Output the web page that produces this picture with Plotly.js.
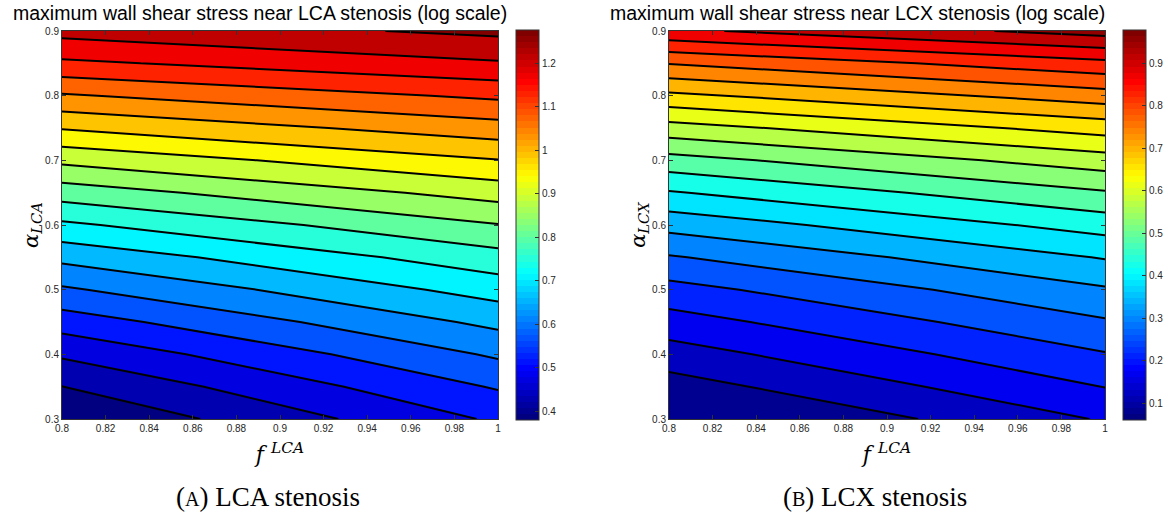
<!DOCTYPE html>
<html>
<head>
<meta charset="utf-8">
<script src="https://cdn.plot.ly/plotly-3.0.1.min.js"></script>
<style>
  html, body { margin: 0; padding: 0; background: #ffffff; }
  #chart { width: 1172px; height: 522px; }
</style>
</head>
<body>
<div id="chart"></div>
<script>
// ---------------- data ----------------
// Grid: fraction f (x) and alpha (y)
const fValues = [0.8, 1.0];
const alphaValues = [0.3, 0.35, 0.4, 0.45, 0.5, 0.55, 0.6, 0.65, 0.7, 0.75, 0.8, 0.85, 0.9];

// LCA stenosis: log max WSS along f = 0.8 and f = 1.0
const lcaAtF080 = [0.380, 0.426, 0.480, 0.542, 0.606, 0.672, 0.744, 0.821, 0.903, 0.989, 1.074, 1.163, 1.235];
const lcaAtF100 = [0.527, 0.571, 0.620, 0.672, 0.726, 0.782, 0.844, 0.912, 0.984, 1.060, 1.135, 1.214, 1.276];

// LCX stenosis: log max WSS along f = 0.8 and f = 1.0
const lcxAtF080 = [0.060, 0.104, 0.148, 0.193, 0.240, 0.296, 0.359, 0.428, 0.503, 0.590, 0.686, 0.786, 0.907];
const lcxAtF100 = [0.172, 0.213, 0.253, 0.295, 0.339, 0.391, 0.451, 0.516, 0.588, 0.671, 0.764, 0.860, 0.978];

// contour levels
const lcaLevels = { start: 0.4266, end: 1.2654, size: 0.0466 };
const lcxLevels = { start: 0.124, end: 0.960, size: 0.044 };

// tick labels
const xTickVals = [0.8, 0.82, 0.84, 0.86, 0.88, 0.9, 0.92, 0.94, 0.96, 0.98, 1.0];
const xTickText = ['0.8', '0.82', '0.84', '0.86', '0.88', '0.9', '0.92', '0.94', '0.96', '0.98', '1'];
const yTickVals = [0.3, 0.4, 0.5, 0.6, 0.7, 0.8, 0.9];
const yTickText = ['0.3', '0.4', '0.5', '0.6', '0.7', '0.8', '0.9'];
const lcaBarVals = [0.4, 0.5, 0.6, 0.7, 0.8, 0.9, 1.0, 1.1, 1.2];
const lcaBarText = ['0.4', '0.5', '0.6', '0.7', '0.8', '0.9', '1', '1.1', '1.2'];
const lcxBarVals = [0.1, 0.2, 0.3, 0.4, 0.5, 0.6, 0.7, 0.8, 0.9];
const lcxBarText = ['0.1', '0.2', '0.3', '0.4', '0.5', '0.6', '0.7', '0.8', '0.9'];

const titleLCA = 'maximum wall shear stress near LCA stenosis (log scale)';
const titleLCX = 'maximum wall shear stress near LCX stenosis (log scale)';

// ---------------- helpers ----------------
const W = 1172, H = 522;
const px = v => v / W;
const py = v => 1 - v / H;

function clamp01(v) { return Math.max(0, Math.min(1, v)); }
function jet(t) {
  const r = clamp01(1.5 - Math.abs(4 * t - 3));
  const g = clamp01(1.5 - Math.abs(4 * t - 2));
  const b = clamp01(1.5 - Math.abs(4 * t - 1));
  return 'rgb(' + Math.round(r * 255) + ',' + Math.round(g * 255) + ',' + Math.round(b * 255) + ')';
}
function jet64(t) {
  const i = Math.min(63, Math.floor(clamp01(t) * 64));
  return jet(i / 63);
}
// discrete 64-step jet for the colour bar
function jetBarScale() {
  const s = [];
  for (let i = 0; i < 64; i++) {
    const c = jet(i / 63);
    s.push([i / 64, c]);
    s.push([(i + 1) / 64, c]);
  }
  return s;
}
// contour band colours: each band gets the colour of its lower level (MATLAB style)
function bandScale(levels, zmin, zmax) {
  const lo = levels.start - levels.size / 2;
  const hi = levels.end + levels.size / 2;
  const s = [];
  const n = 400;
  for (let i = 0; i <= n; i++) {
    const p = i / n;
    const v = lo + p * (hi - lo);
    const lower = v - levels.size / 2;
    s.push([p, jet64((lower - zmin) / (zmax - zmin))]);
  }
  return s;
}
function grid(a, b) { return alphaValues.map((_, i) => [a[i], b[i]]); }

const zLCA = grid(lcaAtF080, lcaAtF100);
const zLCX = grid(lcxAtF080, lcxAtF100);
const lcaMin = Math.min(...lcaAtF080, ...lcaAtF100), lcaMax = Math.max(...lcaAtF080, ...lcaAtF100);
const lcxMin = Math.min(...lcxAtF080, ...lcxAtF100), lcxMax = Math.max(...lcxAtF080, ...lcxAtF100);

const tickFont = { family: 'Liberation Sans, Arial, sans-serif', size: 10, color: '#262626' };

function colorbar(xLeftPx, vals, text) {
  return {
    x: px(xLeftPx), xanchor: 'left', xref: 'paper',
    y: py(225), yanchor: 'middle', yref: 'paper',
    len: 390 / H, lenmode: 'fraction',
    thickness: 23, thicknessmode: 'pixels',
    xpad: 0, ypad: 0,
    outlinecolor: '#333333', outlinewidth: 1,
    ticks: 'inside', ticklen: 4, tickcolor: '#333333',
    tickmode: 'array', tickvals: vals, ticktext: text,
    tickfont: tickFont
  };
}

const traces = [
  { type: 'heatmap', x: fValues, y: alphaValues, z: zLCA, zmin: lcaMin, zmax: lcaMax,
    colorscale: jetBarScale(), showscale: true, colorbar: colorbar(516, lcaBarVals, lcaBarText),
    xaxis: 'x', yaxis: 'y', hoverinfo: 'skip' },
  { type: 'contour', x: fValues, y: alphaValues, z: zLCA,
    autocontour: false, contours: Object.assign({ coloring: 'fill', showlines: true }, lcaLevels),
    colorscale: bandScale(lcaLevels, lcaMin, lcaMax), showscale: false,
    line: { color: '#000000', width: 2, smoothing: 0 },
    xaxis: 'x', yaxis: 'y' },
  { type: 'heatmap', x: fValues, y: alphaValues, z: zLCX, zmin: lcxMin, zmax: lcxMax,
    colorscale: jetBarScale(), showscale: true, colorbar: colorbar(1123, lcxBarVals, lcxBarText),
    xaxis: 'x2', yaxis: 'y2', hoverinfo: 'skip' },
  { type: 'contour', x: fValues, y: alphaValues, z: zLCX,
    autocontour: false, contours: Object.assign({ coloring: 'fill', showlines: true }, lcxLevels),
    colorscale: bandScale(lcxLevels, lcxMin, lcxMax), showscale: false,
    line: { color: '#000000', width: 2, smoothing: 0 },
    xaxis: 'x2', yaxis: 'y2' }
];

function xAxis(domain, anchor) {
  return {
    domain: domain, anchor: anchor, range: [0.8, 1.0],
    tickmode: 'array', tickvals: xTickVals, ticktext: xTickText,
    ticks: 'inside', ticklen: 4, tickcolor: '#333333', tickfont: tickFont,
    showline: true, linecolor: '#333333', linewidth: 1, mirror: 'ticks',
    showgrid: false, zeroline: false, automargin: false,
    title: { text: '<i>f</i> <sup><i>LCA</i></sup>', standoff: 13,
             font: { family: 'DejaVu Serif, Liberation Serif, serif', size: 22, color: '#000' } }
  };
}
function yAxis(anchor, sub) {
  return {
    domain: [1 - 419 / H, 1 - 31 / H], anchor: anchor, range: [0.3, 0.9],
    tickmode: 'array', tickvals: yTickVals, ticktext: yTickText,
    ticks: 'inside', ticklen: 4, tickcolor: '#333333', tickfont: tickFont,
    showline: true, linecolor: '#333333', linewidth: 1, mirror: 'ticks',
    showgrid: false, zeroline: false, automargin: false,
    title: { text: '<i>α</i><sub><i>' + sub + '</i></sub>', standoff: 0,
             font: { family: 'DejaVu Serif, Liberation Serif, serif', size: 21, color: '#000' } }
  };
}

const titleFont = { family: 'Liberation Sans, Arial, sans-serif', size: 19.5, color: '#000' };
const captionFont = { family: 'Liberation Serif, DejaVu Serif, serif', size: 27, color: '#000' };

const layout = {
  width: W, height: H,
  margin: { l: 0, r: 0, t: 0, b: 0 },
  paper_bgcolor: '#ffffff', plot_bgcolor: '#ffffff',
  showlegend: false,
  xaxis: xAxis([62 / W, 498 / W], 'y'),
  yaxis: yAxis('x', 'LCA'),
  xaxis2: xAxis([669 / W, 1105 / W], 'y2'),
  yaxis2: yAxis('x2', 'LCX'),
  annotations: [
    { text: titleLCA, xref: 'paper', yref: 'paper', x: px(260), y: py(13), xanchor: 'center', yanchor: 'middle',
      showarrow: false, font: titleFont },
    { text: titleLCX, xref: 'paper', yref: 'paper', x: px(857), y: py(13), xanchor: 'center', yanchor: 'middle',
      showarrow: false, font: titleFont },
    { text: '(<span style="font-size:20px">A</span>) LCA stenosis', xref: 'paper', yref: 'paper',
      x: px(268), y: py(497), xanchor: 'center', yanchor: 'middle', showarrow: false, font: captionFont },
    { text: '(<span style="font-size:20px">B</span>) LCX stenosis', xref: 'paper', yref: 'paper',
      x: px(875), y: py(497), xanchor: 'center', yanchor: 'middle', showarrow: false, font: captionFont }
  ]
};

Plotly.newPlot('chart', traces, layout, { displayModeBar: false, staticPlot: true });
</script>
</body>
</html>
